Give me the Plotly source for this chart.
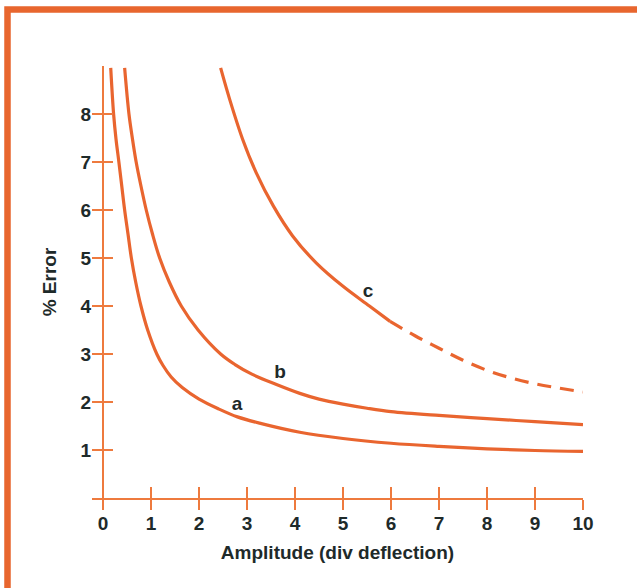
import plotly.graph_objects as go

# Curve a
a_x = [0.16, 0.22, 0.27, 0.33, 0.39, 0.45, 0.52, 0.59, 0.68, 0.79, 0.93, 1.12, 1.25, 1.42, 1.65,
       2.0, 2.4, 2.8, 3.3, 4.1, 5.0, 6.0, 7.0, 8.0, 9.0, 10.0]
a_y = [8.96, 8.0, 7.48, 7.0, 6.5, 6.0, 5.5, 5.0, 4.5, 4.0, 3.5, 3.0, 2.76, 2.52, 2.3,
       2.06, 1.86, 1.69, 1.55, 1.37, 1.24, 1.14, 1.075, 1.025, 0.99, 0.97]
# Curve b
b_x = [0.45, 0.54, 0.61, 0.69, 0.79, 0.9, 1.03, 1.18, 1.38, 1.63, 1.98, 2.45, 2.75, 3.1, 3.6,
       4.1, 4.5, 5.0, 5.5, 6.0, 7.0, 8.0, 9.0, 10.0]
b_y = [8.96, 8.0, 7.5, 7.0, 6.5, 6.0, 5.5, 5.0, 4.5, 4.0, 3.5, 3.0, 2.78, 2.58, 2.37,
       2.18, 2.06, 1.955, 1.87, 1.8, 1.72, 1.655, 1.59, 1.53]
# Curve c (solid part, then dashed extrapolation)
c_solid_x = [2.45, 2.64, 2.91, 3.19, 3.55, 3.95, 4.44, 5.0, 5.55, 5.98]
c_solid_y = [8.96, 8.3, 7.47, 6.78, 6.08, 5.46, 4.9, 4.41, 4.0, 3.68]
c_dash_x = [5.98, 6.5, 7.0, 7.5, 8.0, 8.5, 9.0, 9.5, 10.0]
c_dash_y = [3.68, 3.38, 3.12, 2.87, 2.66, 2.5, 2.38, 2.29, 2.21]

label_text = ["<b>a</b>", "<b>b</b>", "<b>c</b>"]
label_x = [2.79, 3.69, 5.52]
label_y = [1.94, 2.6, 4.29]

x_ticks = list(range(0, 11))
x_ticktext = ["<b>%d</b>" % v for v in x_ticks]
y_ticks = list(range(1, 9))
y_ticktext = ["<b>%d</b>" % v for v in y_ticks]

ORANGE = "#E9652F"
AXIS = "#EE7A3E"
TEXT = "#1E2A2A"
FONT = "Liberation Sans"

fig = go.Figure()
line_style = dict(color=ORANGE, width=3.2, shape="spline", smoothing=1.0)
fig.add_trace(go.Scatter(x=a_x, y=a_y, mode="lines", line=line_style, hoverinfo="skip"))
fig.add_trace(go.Scatter(x=b_x, y=b_y, mode="lines", line=line_style, hoverinfo="skip"))
fig.add_trace(go.Scatter(x=c_solid_x, y=c_solid_y, mode="lines", line=line_style, hoverinfo="skip"))
fig.add_trace(go.Scatter(x=c_dash_x, y=c_dash_y, mode="lines",
                         line=dict(color=ORANGE, width=3.2, shape="spline", smoothing=1.0, dash="14px,9px"),
                         hoverinfo="skip"))
fig.add_trace(go.Scatter(x=label_x, y=label_y, mode="text", text=label_text,
                         textfont=dict(family=FONT, size=19, color=TEXT),
                         xaxis="x2", yaxis="y", hoverinfo="skip", cliponaxis=False))

xrange = [-0.23, 10]
fig.update_layout(
    width=637, height=588,
    margin=dict(l=92, r=54, t=66, b=90),
    paper_bgcolor="white", plot_bgcolor="white",
    showlegend=False,
    font=dict(family=FONT, color=TEXT),
    xaxis=dict(
        range=xrange, tickvals=x_ticks, ticktext=x_ticktext, ticks="outside", ticklen=10, tickwidth=2,
        tickcolor=AXIS, showline=True, linecolor=AXIS, linewidth=2, showgrid=False,
        zeroline=True, zerolinecolor=AXIS, zerolinewidth=2, ticklabelstandoff=-3,
        tickfont=dict(family=FONT, size=19, color=TEXT),
        title=dict(text="<b>Amplitude (div deflection)</b>", font=dict(family=FONT, size=19, color=TEXT), standoff=13),
    ),
    xaxis2=dict(
        range=xrange, overlaying="x", anchor="y", side="bottom", tickvals=x_ticks,
        ticks="inside", ticklen=11, tickwidth=2, tickcolor=AXIS,
        showticklabels=False, showline=False, showgrid=False, zeroline=False,
    ),
    yaxis=dict(
        range=[0, 9], tickvals=y_ticks, ticktext=y_ticktext, ticks="inside", ticklen=21, tickwidth=2,
        tickcolor=AXIS, showline=False, showgrid=False, zeroline=False,
        tickfont=dict(family=FONT, size=19, color=TEXT),
        title=dict(text="<b>% Error</b>", font=dict(family=FONT, size=19, color=TEXT), standoff=18),
    ),
    shapes=[dict(type="rect", xref="paper", yref="paper",
                 x0=-84.5 / 491, x1=1.3, y0=-0.3, y1=(588 - 9.5 - 90) / 432,
                 line=dict(color="#E8662E", width=6.5), fillcolor="rgba(0,0,0,0)", layer="below")],
)

fig.write_html("out.html", config={"displayModeBar": False},
               post_script="document.body.style.margin='0';document.body.style.padding='0';")
